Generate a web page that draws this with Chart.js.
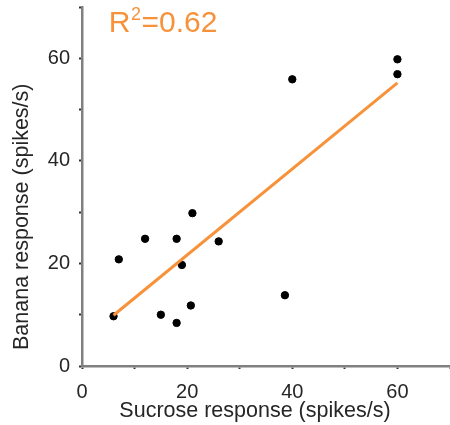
<!DOCTYPE html>
<html>
<head>
<meta charset="utf-8">
<script src="https://cdn.jsdelivr.net/npm/chart.js@4.4.1/dist/chart.umd.min.js"></script>
<style>
  html, body { margin: 0; padding: 0; background: #fff; }
  #wrap { width: 450px; height: 425px; position: relative; }
</style>
</head>
<body>
<div id="wrap"><canvas id="c" width="450" height="425"></canvas></div>
<script>
// Data
const sucrose = [6, 7, 12, 15, 18, 18, 19, 20.7, 21, 26, 38.6, 40, 60, 60];
const banana  = [9.7, 20.8, 24.8, 10.0, 24.8, 8.4, 19.7, 11.8, 29.8, 24.3, 13.8, 55.9, 59.8, 56.9];
const fitX = [6, 60];
const fitY = [9.9, 55.2];
const labeledTicks = [0, 20, 40, 60];
const xTitle = 'Sucrose response (spikes/s)';
const yTitle = 'Banana response (spikes/s)';
const rSquaredText = { base: 'R', sup: '2', rest: '=0.62' };

const points = sucrose.map((x, i) => ({ x: x, y: banana[i] }));
const fit = fitX.map((x, i) => ({ x: x, y: fitY[i] }));

const FONT = '"Liberation Sans", Arial, sans-serif';
const ORANGE = '#f7923a';
const TEXT = '#262626';

const textPlugin = {
  id: 'texts',
  afterDraw(chart) {
    const ctx = chart.ctx;
    const xs = chart.scales.x, ys = chart.scales.y;
    ctx.save();
    // R^2 annotation
    const x0 = xs.getPixelForValue(5.1);
    const yb = ys.getPixelForValue(65.2);
    ctx.fillStyle = ORANGE;
    ctx.textBaseline = 'alphabetic';
    ctx.textAlign = 'left';
    ctx.font = '30px ' + FONT;
    ctx.fillText(rSquaredText.base, x0, yb);
    const w = ctx.measureText(rSquaredText.base).width;
    ctx.font = '18px ' + FONT;
    ctx.fillText(rSquaredText.sup, x0 + w + 0.5, yb - 12);
    const w2 = ctx.measureText(rSquaredText.sup).width;
    ctx.font = '30px ' + FONT;
    ctx.fillText(rSquaredText.rest, x0 + w + w2 + 1, yb);

    // Axis titles
    ctx.fillStyle = TEXT;
    ctx.font = '21.5px ' + FONT;
    ctx.textAlign = 'center';
    ctx.textBaseline = 'middle';
    ctx.fillText(xTitle, xs.getPixelForValue(32.9), xs.bottom - 14);
    ctx.translate(ys.left + 22, ys.getPixelForValue(29.1));
    ctx.rotate(-Math.PI / 2);
    ctx.fillText(yTitle, 0, 0);
    ctx.restore();
  }
};

function zeroPad(s) {
  s.paddingTop = 0; s.paddingBottom = 0; s.paddingLeft = 0; s.paddingRight = 0;
}

new Chart(document.getElementById('c'), {
  type: 'scatter',
  data: {
    datasets: [
      {
        type: 'scatter',
        data: points,
        backgroundColor: '#000',
        borderColor: '#000',
        pointRadius: 3.7,
        pointHoverRadius: 3.7,
        order: 2
      },
      {
        type: 'line',
        data: fit,
        borderColor: ORANGE,
        borderWidth: 3,
        pointRadius: 0,
        fill: false,
        tension: 0,
        order: 1
      }
    ]
  },
  options: {
    responsive: false,
    animation: false,
    events: [],
    layout: { autoPadding: false, padding: { top: 7, right: 0, left: 0, bottom: 0 } },
    plugins: { legend: { display: false }, tooltip: { enabled: false } },
    scales: {
      x: {
        type: 'linear',
        min: 0, max: 70,
        ticks: {
          stepSize: 10,
          autoSkip: false,
          maxRotation: 0,
          color: TEXT,
          font: { family: FONT, size: 20 },
          padding: 11,
          callback: v => labeledTicks.includes(v) ? String(v) : ''
        },
        grid: { display: true, drawOnChartArea: false, drawTicks: true, tickLength: 3, tickColor: '#333', tickWidth: 2 },
        border: { display: true, color: '#808080', width: 2.5 },
        title: { display: false },
        afterFit: s => { s.height = 59; zeroPad(s); }
      },
      y: {
        type: 'linear',
        min: 0, max: 70,
        ticks: {
          stepSize: 10,
          autoSkip: false,
          color: TEXT,
          font: { family: FONT, size: 20 },
          padding: 9,
          callback: v => labeledTicks.includes(v) ? String(v) : ''
        },
        grid: { display: true, drawOnChartArea: false, drawTicks: true, tickLength: 3, tickColor: '#333', tickWidth: 2 },
        border: { display: true, color: '#808080', width: 2.5 },
        title: { display: false },
        afterFit: s => { s.width = 82; zeroPad(s); }
      }
    }
  },
  plugins: [textPlugin]
});
</script>
</body>
</html>
